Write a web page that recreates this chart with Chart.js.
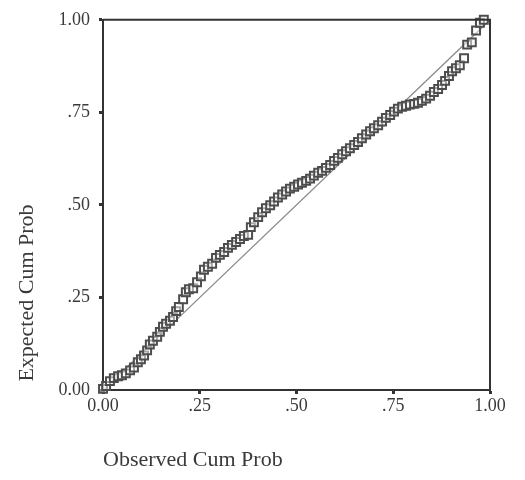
<!DOCTYPE html>
<html>
<head>
<meta charset="utf-8">
<script src="https://cdn.jsdelivr.net/npm/chart.js@4"></script>
<style>
  html, body { margin: 0; padding: 0; background: #fff; }
  #wrap { width: 525px; height: 480px; position: relative; }
</style>
</head>
<body>
<div id="wrap"><canvas id="ppChart"></canvas></div>
<script>
// P-P plot data
const observedCum = [
  0.000, 0.008, 0.018, 0.028, 0.039, 0.049, 0.059, 0.070, 0.080, 0.090,
  0.098, 0.106, 0.114, 0.121, 0.129, 0.140, 0.147, 0.155, 0.163, 0.173,
  0.181, 0.189, 0.196, 0.207, 0.214, 0.222, 0.233, 0.243, 0.253, 0.261,
  0.271, 0.282, 0.292, 0.302, 0.313, 0.323, 0.333, 0.344, 0.354, 0.364,
  0.375, 0.382, 0.390, 0.401, 0.411, 0.421, 0.432, 0.442, 0.452, 0.463,
  0.473, 0.483, 0.494, 0.504, 0.514, 0.525, 0.535, 0.545, 0.556, 0.566,
  0.576, 0.587, 0.597, 0.607, 0.618, 0.628, 0.638, 0.649, 0.659, 0.669,
  0.680, 0.690, 0.700, 0.711, 0.721, 0.731, 0.742, 0.752, 0.762, 0.773,
  0.783, 0.793, 0.804, 0.814, 0.824, 0.835, 0.845, 0.855, 0.866, 0.876,
  0.884, 0.894, 0.902, 0.912, 0.922, 0.933, 0.941, 0.953, 0.964, 0.974, 0.984
];
const expectedCum = [
  0.003, 0.011, 0.024, 0.032, 0.037, 0.040, 0.045, 0.053, 0.061, 0.075,
  0.083, 0.093, 0.107, 0.123, 0.133, 0.144, 0.157, 0.171, 0.179, 0.187,
  0.197, 0.213, 0.224, 0.245, 0.264, 0.272, 0.275, 0.291, 0.307, 0.325,
  0.333, 0.341, 0.357, 0.365, 0.373, 0.384, 0.392, 0.400, 0.408, 0.416,
  0.419, 0.440, 0.453, 0.467, 0.480, 0.491, 0.499, 0.509, 0.520, 0.528,
  0.536, 0.544, 0.549, 0.555, 0.560, 0.565, 0.571, 0.579, 0.587, 0.592,
  0.600, 0.608, 0.619, 0.627, 0.637, 0.645, 0.653, 0.662, 0.670, 0.680,
  0.690, 0.699, 0.707, 0.715, 0.725, 0.735, 0.743, 0.752, 0.760, 0.765,
  0.768, 0.771, 0.773, 0.776, 0.781, 0.787, 0.795, 0.805, 0.813, 0.824,
  0.835, 0.848, 0.861, 0.869, 0.877, 0.896, 0.933, 0.939, 0.971, 0.992, 1.000
];
const refLine = [0, 1];
const tickValues = [0, 0.25, 0.5, 0.75, 1];
const tickLabels = ['0.00', '.25', '.50', '.75', '1.00'];
const xTitle = 'Observed Cum Prob';
const yTitle = 'Expected Cum Prob';

const ink = '#333';
const serif = '"Liberation Serif", "DejaVu Serif", serif';

// frame on top/right plus the two axis titles
const framePlugin = {
  id: 'frame',
  afterDraw(chart) {
    const { ctx, chartArea: a } = chart;
    ctx.save();
    ctx.strokeStyle = ink;
    ctx.lineWidth = 2;
    ctx.beginPath();
    ctx.moveTo(a.left, a.top);
    ctx.lineTo(a.right, a.top);
    ctx.lineTo(a.right, a.bottom);
    ctx.stroke();

    ctx.fillStyle = '#3a3a3a';
    ctx.font = '22px ' + serif;
    ctx.textBaseline = 'middle';
    ctx.textAlign = 'left';
    ctx.fillText(xTitle, a.left, 460);

    ctx.translate(27, 293);
    ctx.rotate(-Math.PI / 2);
    ctx.textAlign = 'center';
    ctx.fillText(yTitle, 0, 0);
    ctx.restore();
  }
};

function axisOpts(extra) {
  return Object.assign({
    type: 'linear',
    min: 0,
    max: 1,
    afterBuildTicks(scale) {
      scale.ticks = tickValues.map(v => ({ value: v }));
    },
    border: { display: true, color: ink, width: 2 },
    grid: {
      drawOnChartArea: false,
      drawTicks: true,
      tickLength: 4,
      tickWidth: 3,
      tickColor: ink
    }
  }, extra);
}

new Chart(document.getElementById('ppChart'), {
  type: 'scatter',
  data: {
    datasets: [
      {
        label: 'points',
        data: observedCum.map((x, i) => ({ x: x, y: expectedCum[i] })),
        pointStyle: 'rect',
        pointRadius: 5.6,
        pointBorderWidth: 2,
        pointBorderColor: '#4d4d4d',
        pointBackgroundColor: 'rgba(255,255,255,0.5)',
        clip: false
      },
      {
        label: 'reference',
        data: refLine.map(v => ({ x: v, y: v })),
        showLine: true,
        borderColor: '#8a8a8a',
        borderWidth: 1.2,
        pointRadius: 0,
        fill: false
      }
    ]
  },
  options: {
    responsive: true,
    maintainAspectRatio: false,
    animation: false,
    layout: { padding: { left: 0, right: 35, top: 15, bottom: 0 } },
    plugins: {
      legend: { display: false },
      tooltip: { enabled: false }
    },
    scales: {
      x: axisOpts({
        position: 'bottom',
        afterFit(scale) { scale.height = 90; },
        ticks: {
          color: '#3a3a3a',
          font: { family: serif, size: 18 },
          padding: 1,
          maxRotation: 0,
          callback: (v) => tickLabels[tickValues.indexOf(v)]
        }
      }),
      y: axisOpts({
        position: 'left',
        afterFit(scale) { scale.width = 103; },
        ticks: {
          color: '#3a3a3a',
          font: { family: serif, size: 18 },
          padding: 9,
          callback: (v) => tickLabels[tickValues.indexOf(v)]
        }
      })
    }
  },
  plugins: [framePlugin]
});
</script>
</body>
</html>
